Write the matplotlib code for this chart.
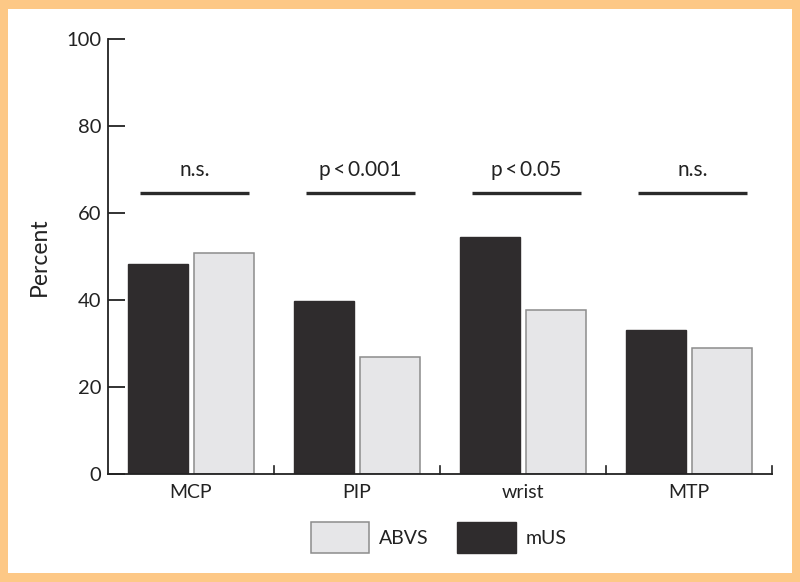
import matplotlib
matplotlib.use("Agg")
import matplotlib.pyplot as plt
import numpy as np
from matplotlib.patches import Rectangle

plt.rcParams["font.family"] = ["Lato", "DejaVu Sans"]

categories = ["MCP", "PIP", "wrist", "MTP"]
mus_vals   = [48.3, 39.8, 54.4, 33.0]
abvs_vals  = [50.9, 27.0, 37.8, 29.0]
sig_labels = ["n.s.", "p\u2009<\u20090.001", "p\u2009<\u20090.05", "n.s."]
sig_level  = 64.6
yticks     = [0, 20, 40, 60, 80, 100]

DARK  = "#2f2c2d"
LIGHT = "#e6e6e8"
EDGE  = "#8c8c8c"
ORANGE = "#fdc886"
TXT = "#222222"

fig = plt.figure(figsize=(8, 5.82), dpi=100, facecolor=ORANGE)
# white panel inside the orange frame
fig.patches.append(Rectangle((8 / 800, 9 / 582), 784 / 800, 564 / 582,
                             transform=fig.transFigure, facecolor="white",
                             edgecolor="none", zorder=-5))

ax = fig.add_axes([0.135, 0.1856, 0.83, 0.7474])
ax.set_facecolor("none")

x = np.arange(len(categories)) + 0.5
w = 0.361; off = 0.199
ax.bar(x - off, mus_vals, w, color=DARK, edgecolor=DARK, linewidth=1, label="mUS")
ax.bar(x + off, abvs_vals, w, color=LIGHT, edgecolor=EDGE, linewidth=1.1, label="ABVS")

for xi, lab in zip(x, sig_labels):
    ax.plot([xi - 0.31, xi + 0.35], [sig_level, sig_level], color="#2a2a2a",
            lw=2.4, solid_capstyle="butt")
    ax.text(xi + 0.02, sig_level + 3.9, lab, ha="center", va="baseline",
            fontsize=15, color=TXT)

ax.set_xlim(0, 4)
ax.set_ylim(0, 100)
ax.set_yticks(yticks)
ax.tick_params(axis="y", direction="in", length=12, width=1.3, labelsize=14.5,
               colors=TXT, pad=5)
ax.set_xticks(x)
ax.set_xticklabels(categories, fontsize=14, color=TXT)
ax.tick_params(axis="x", length=0, pad=7)
# small boundary ticks on the x axis
for b in [1, 2, 3, 4]:
    ax.plot([b, b], [0, 1.8], color=TXT, lw=1.2, clip_on=False)

for s in ["top", "right"]:
    ax.spines[s].set_visible(False)
for s in ["left", "bottom"]:
    ax.spines[s].set_linewidth(1.3)
    ax.spines[s].set_color(TXT)

ax.set_ylabel("Percent", fontsize=16.5, color=TXT)
ax.yaxis.set_label_coords(-0.087, 0.5)

# legend drawn by hand to match the boxed swatches
fig.patches.append(Rectangle((311 / 800, 1 - 553 / 582), 58 / 800, 31 / 582,
                             transform=fig.transFigure, facecolor=LIGHT,
                             edgecolor=EDGE, linewidth=1.1))
fig.text(379 / 800, 1 - 538 / 582, "ABVS", fontsize=14, va="center", color=TXT)
fig.patches.append(Rectangle((457 / 800, 1 - 553 / 582), 59 / 800, 31 / 582,
                             transform=fig.transFigure, facecolor=DARK,
                             edgecolor=DARK, linewidth=1))
fig.text(526 / 800, 1 - 538 / 582, "mUS", fontsize=14, va="center", color=TXT)

fig.savefig("out.png", dpi=100, facecolor=ORANGE)
